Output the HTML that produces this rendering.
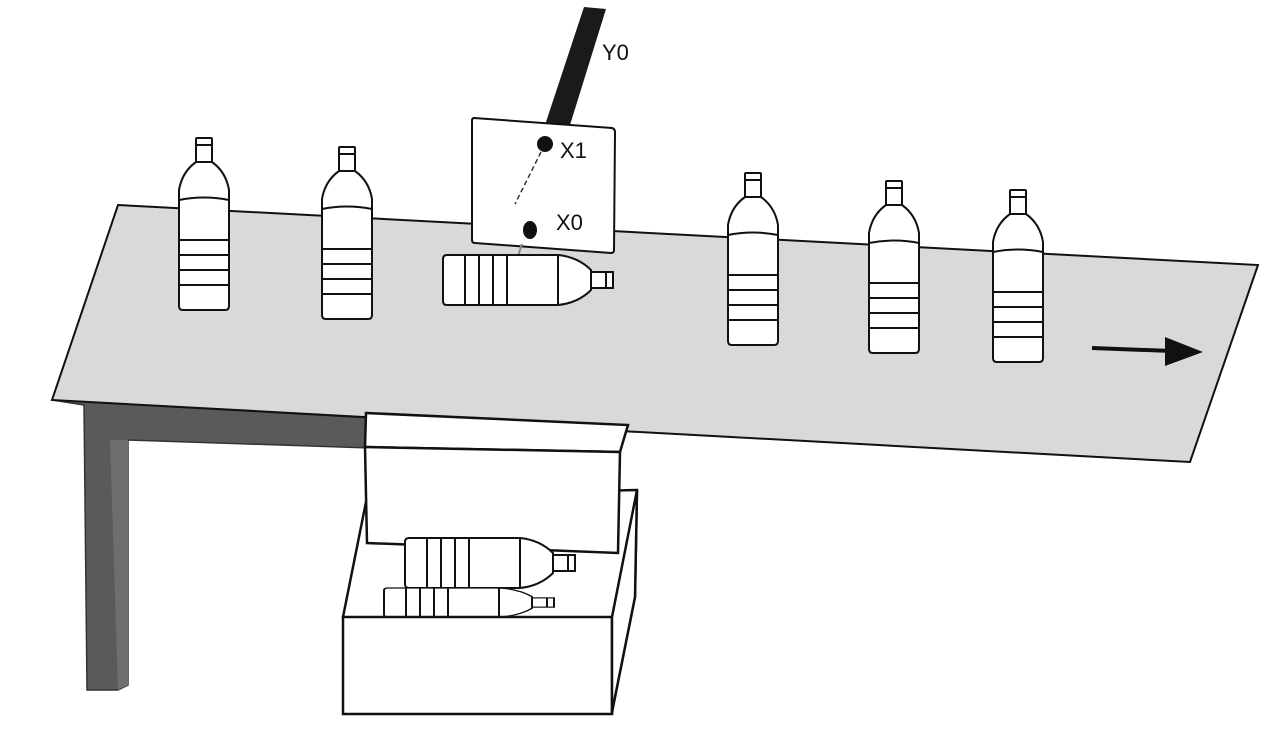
<!DOCTYPE html>
<html><head><style>body{margin:0;background:#fff}svg{display:block}</style></head><body>
<svg width="1280" height="734" viewBox="0 0 1280 734" xmlns="http://www.w3.org/2000/svg">
<defs>
<g id="ub" stroke="#111" stroke-width="2" fill="#fff">
<rect x="18" y="0" width="16" height="24" rx="1"/>
<line x1="18" y1="7" x2="34" y2="7"/>
<path d="M18 24 Q4 34 1 52 L1 168 Q1 172 5 172 L47 172 Q51 172 51 168 L51 52 Q48 34 34 24 Z"/>
<path d="M1 62 Q26 57 51 62"/>
<line x1="1" y1="102" x2="51" y2="102"/>
<line x1="1" y1="117" x2="51" y2="117"/>
<line x1="1" y1="132" x2="51" y2="132"/>
<line x1="1" y1="147" x2="51" y2="147"/>
</g>
<g id="lb" stroke="#111" stroke-width="2" fill="#fff">
<path d="M4 0 L115 0 Q135 2 148 15 L148 35 Q135 48 115 50 L4 50 Q0 50 0 46 L0 4 Q0 0 4 0 Z"/>
<rect x="148" y="17" width="22" height="16"/>
<line x1="163" y1="17" x2="163" y2="33"/>
<line x1="22" y1="0" x2="22" y2="50"/>
<line x1="36" y1="0" x2="36" y2="50"/>
<line x1="50" y1="0" x2="50" y2="50"/>
<line x1="64" y1="0" x2="64" y2="50"/>
<line x1="115" y1="0" x2="115" y2="50"/>
</g>
</defs>
<polygon points="52,400 370,418 370,448 128,440 128,685 118,690 87,690 84,405" fill="#5a5a5a" stroke="#333" stroke-width="1.5"/>
<polygon points="110,440 128,440 128,685 118,690" fill="#6e6e6e"/>
<polygon points="118,205 1258,265 1190,462 52,400" fill="#d9d9d9" stroke="#111" stroke-width="2"/>
<polygon points="584,7 606,9 570,125 545,125" fill="#1a1a1a"/>
<text x="602" y="60" font-family="Liberation Sans, sans-serif" font-size="22" fill="#111">Y0</text>
<path d="M474 118 L612 128 Q615 129 615 132 L614 250 Q614 253 611 253 L475 243 Q472 243 472 240 L472 121 Q472 118 474 118 Z" fill="#fff" stroke="#111" stroke-width="2"/>
<circle cx="545" cy="144" r="8" fill="#111"/>
<ellipse cx="530" cy="230" rx="7" ry="9" fill="#111"/>
<line x1="541" y1="152" x2="515" y2="204" stroke="#333" stroke-width="1.5" stroke-dasharray="5,3"/>
<text x="560" y="158" font-family="Liberation Sans, sans-serif" font-size="22" fill="#111">X1</text>
<text x="556" y="230" font-family="Liberation Sans, sans-serif" font-size="22" fill="#111">X0</text>
<line x1="522" y1="244" x2="518" y2="256" stroke="#888" stroke-width="2"/>
<use href="#ub" x="178" y="138"/>
<use href="#ub" x="321" y="147"/>
<use href="#ub" x="727" y="173"/>
<use href="#ub" x="868" y="181"/>
<use href="#ub" x="992" y="190"/>
<use href="#lb" x="443" y="255"/>
<line x1="1092" y1="348" x2="1172" y2="351" stroke="#111" stroke-width="4"/>
<polygon points="1165,337 1203,352 1165,366" fill="#111"/>
<!-- box -->
<polygon points="343,617 367,497 637,490 635,597 613,707" fill="#fff" stroke="#111" stroke-width="2.5"/>
<polygon points="366,413 628,425 620,452 365,447" fill="#fff" stroke="#111" stroke-width="2.5"/>
<polygon points="365,447 620,452 618,553 367,543" fill="#fff" stroke="#111" stroke-width="2.5"/>
<use href="#lb" x="405" y="538"/>
<g transform="translate(384,588) scale(1,0.58)"><use href="#lb"/></g>
<polygon points="343,617 612,617 612,714 343,714" fill="#fff" stroke="#111" stroke-width="2.5"/>
<polygon points="612,617 637,490 635,597 613,707 612,714" fill="#fff" stroke="#111" stroke-width="2.5"/>
</svg>
</body></html>
